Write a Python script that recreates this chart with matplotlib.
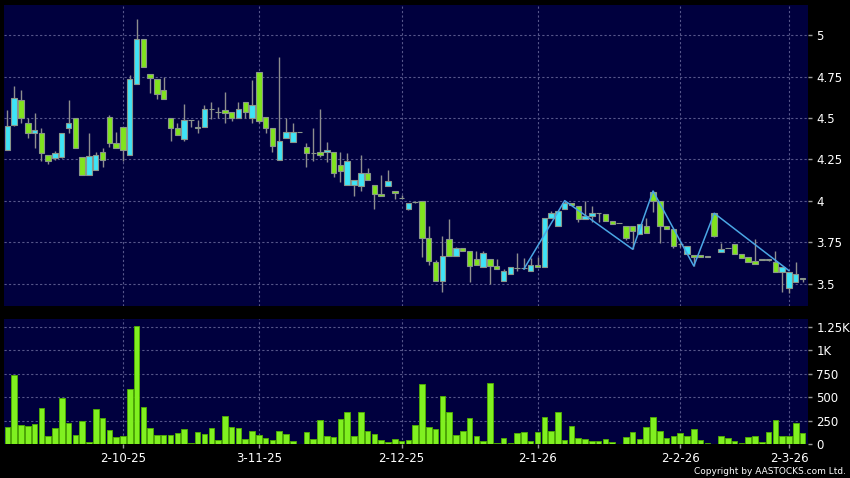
import numpy as np
import matplotlib
matplotlib.use("Agg")
from matplotlib import pyplot as plt
from matplotlib.ticker import FuncFormatter

# daily candles, oldest first (index = trading day in the window)
opens = [4.31, 4.46, 4.61, 4.47, 4.41, 4.41, 4.28, 4.257, 4.263, 4.438,
         4.50, 4.265, 4.157, 4.185, 4.293, 4.504, 4.348, 4.444, 4.275, 4.705,
         4.974, 4.763, 4.733, 4.667, 4.498, 4.438, 4.376, 4.486, 4.442, 4.444,
         4.552, 4.536, 4.546, 4.534, 4.498, 4.594, 4.502, 4.775, 4.504, 4.442,
         4.245, 4.378, 4.354, 4.414, 4.323, 4.287, 4.293, 4.293, 4.293, 4.215,
         4.094, 4.094, 4.089, 4.167, 4.094, 4.044, 4.092, 4.058, 4.016, 3.954,
         3.992, 3.998, 3.775, 3.631, 3.516, 3.769, 3.667, 3.715, 3.699, 3.649,
         3.601, 3.649, 3.607, 3.516, 3.559, 3.595, 3.595, 3.577, 3.613, 3.601,
         3.896, 3.848, 3.95, 3.986, 3.968, 3.892, 3.908, 3.926, 3.92, 3.878,
         3.866, 3.848, 3.848, 3.801, 3.848, 4.056, 3.998, 3.848, 3.83, 3.739,
         3.679, 3.677, 3.677, 3.665, 3.926, 3.695, 3.715, 3.74, 3.683, 3.661,
         3.637, 3.645, 3.645, 3.63, 3.574, 3.478, 3.514, 3.53]
highs = [4.55, 4.69, 4.67, 4.50, 4.53, 4.44, 4.28, 4.30, 4.41, 4.61,
         4.50, 4.265, 4.41, 4.297, 4.317, 4.516, 4.414, 4.444, 4.759, 5.096,
         4.974, 4.763, 4.733, 4.745, 4.50, 4.468, 4.584, 4.486, 4.488, 4.578,
         4.596, 4.568, 4.655, 4.534, 4.598, 4.594, 4.729, 4.775, 4.504, 4.442,
         4.865, 4.50, 4.468, 4.414, 4.348, 4.438, 4.554, 4.355, 4.293, 4.293,
         4.287, 4.124, 4.275, 4.199, 4.094, 4.155, 4.187, 4.058, 4.036, 3.988,
         3.998, 3.998, 3.849, 3.645, 3.789, 3.89, 3.72, 3.715, 3.699, 3.699,
         3.699, 3.649, 3.649, 3.59, 3.601, 3.685, 3.655, 3.655, 3.66, 3.896,
         3.94, 3.938, 4.002, 3.986, 3.968, 3.998, 3.972, 3.926, 3.92, 3.878,
         3.866, 3.848, 3.848, 3.86, 3.896, 4.06, 3.998, 3.848, 3.83, 3.745,
         3.729, 3.677, 3.677, 3.665, 3.926, 3.749, 3.715, 3.74, 3.683, 3.661,
         3.771, 3.645, 3.65, 3.70, 3.60, 3.572, 3.635, 3.53]
lows = [4.31, 4.45, 4.47, 4.38, 4.32, 4.24, 4.225, 4.247, 4.26, 4.41,
        4.32, 4.157, 4.157, 4.185, 4.207, 4.323, 4.32, 4.243, 4.275, 4.705,
        4.805, 4.653, 4.613, 4.613, 4.363, 4.396, 4.363, 4.448, 4.408, 4.444,
        4.494, 4.498, 4.468, 4.484, 4.498, 4.498, 4.472, 4.472, 4.408, 4.293,
        4.245, 4.378, 4.354, 4.414, 4.207, 4.243, 4.263, 4.235, 4.145, 4.114,
        4.094, 4.032, 4.062, 4.124, 3.954, 4.032, 4.092, 4.014, 4.016, 3.945,
        3.985, 3.665, 3.614, 3.516, 3.45, 3.667, 3.667, 3.699, 3.51, 3.617,
        3.601, 3.498, 3.589, 3.516, 3.559, 3.58, 3.59, 3.577, 3.601, 3.601,
        3.896, 3.848, 3.95, 3.974, 3.875, 3.892, 3.875, 3.875, 3.878, 3.86,
        3.866, 3.765, 3.709, 3.801, 3.806, 3.932, 3.745, 3.83, 3.715, 3.72,
        3.679, 3.608, 3.665, 3.665, 3.785, 3.695, 3.715, 3.683, 3.658, 3.635,
        3.62, 3.645, 3.64, 3.574, 3.454, 3.448, 3.514, 3.51]
closes = [4.45, 4.62, 4.50, 4.41, 4.425, 4.29, 4.24, 4.287, 4.408, 4.468,
          4.32, 4.157, 4.273, 4.275, 4.245, 4.349, 4.32, 4.307, 4.733, 4.974,
          4.805, 4.743, 4.643, 4.613, 4.438, 4.396, 4.486, 4.486, 4.442, 4.552,
          4.552, 4.536, 4.528, 4.498, 4.552, 4.536, 4.578, 4.484, 4.438, 4.333,
          4.363, 4.414, 4.414, 4.414, 4.291, 4.287, 4.275, 4.305, 4.167, 4.179,
          4.241, 4.124, 4.167, 4.124, 4.044, 4.032, 4.118, 4.046, 4.016, 3.988,
          3.992, 3.775, 3.639, 3.516, 3.667, 3.667, 3.715, 3.699, 3.608, 3.617,
          3.685, 3.607, 3.589, 3.577, 3.601, 3.595, 3.595, 3.613, 3.601, 3.896,
          3.926, 3.938, 3.986, 3.974, 3.89, 3.908, 3.926, 3.926, 3.878, 3.86,
          3.866, 3.775, 3.818, 3.86, 3.806, 3.998, 3.848, 3.83, 3.729, 3.739,
          3.729, 3.665, 3.665, 3.665, 3.789, 3.713, 3.715, 3.683, 3.658, 3.635,
          3.62, 3.645, 3.645, 3.574, 3.60, 3.572, 3.558, 3.53]
# volume in thousands
volume = [182, 734, 207, 196, 214, 388, 82, 171, 495, 228,
          100, 246, 21, 370, 281, 150, 75, 85, 591, 1264,
          399, 171, 96, 96, 96, 118, 157, 14, 125, 103,
          167, 43, 299, 178, 171, 57, 142, 93, 61, 43,
          139, 110, 32, 0, 125, 53, 256, 82, 71, 267,
          338, 82, 345, 139, 110, 43, 18, 50, 36, 43,
          199, 637, 182, 157, 516, 338, 100, 139, 278, 85,
          32, 648, 14, 68, 14, 114, 128, 28, 132, 288,
          139, 342, 39, 196, 64, 50, 36, 36, 50, 18,
          3, 75, 125, 50, 185, 288, 135, 61, 89, 114,
          85, 157, 39, 10, 0, 89, 64, 28, 14, 75,
          89, 18, 132, 253, 85, 89, 221, 121]

# zigzag swing points (day index, price)
zz_idx = [76, 82, 92, 95, 101, 104, 115]
zz_val = [3.59, 4.002, 3.709, 4.06, 3.608, 3.926, 3.58]

date_idx = [17, 37, 58, 78, 99, 115]
date_labels = ["2-10-25", "3-11-25", "2-12-25", "2-1-26", "2-2-26", "2-3-26"]
price_ticks = [3.5, 3.75, 4, 4.25, 4.5, 4.75, 5]
vol_ticks = [0, 250, 500, 750, 1000, 1250]

BG = "#000000"
PANEL = "#00003e"
GRID = "#56568a"
UP = "#3fe4f6"
DOWN = "#80e41e"
WICK = "#8e8e8e"
EDGE = "#8a968a"

o = np.array(opens)
h = np.array(highs)
l = np.array(lows)
c = np.array(closes)
x = np.arange(len(o))

fig = plt.figure(figsize=(8.5, 4.78), dpi=100, facecolor=BG)
ax = fig.add_axes([4 / 850, 1 - 306 / 478, 804 / 850, 301 / 478])
axv = fig.add_axes([4 / 850, 1 - 444 / 478, 804 / 850, 125 / 478], sharex=ax)

for a in (ax, axv):
    a.set_facecolor(PANEL)
    for s in a.spines.values():
        s.set_visible(False)
    a.yaxis.tick_right()
    a.tick_params(axis="y", colors="#9a9a9a", length=3, width=1, pad=3,
                  labelcolor="white", labelsize=8.5)
    a.tick_params(axis="x", colors="#9a9a9a", length=3, width=1, pad=3,
                  labelcolor="white", labelsize=8.5)
    a.grid(True, color=GRID, linestyle=(0, (2, 2)), linewidth=0.8)
    a.set_axisbelow(True)

# candles
ax.vlines(x, l, h, color=WICK, linewidth=1, zorder=2)
body_lo = np.minimum(o, c)
body_h = np.maximum(np.abs(c - o), 0.003)
colors = np.where(c > o, UP, np.where(c < o, DOWN, WICK))
ax.bar(x, body_h, bottom=body_lo, width=0.8, color=colors,
       edgecolor=EDGE, linewidth=0.8, zorder=3)
ax.plot(zz_idx, zz_val, color="#4aa6e4", linewidth=1.1, zorder=4)

ax.set_ylim(3.367, 5.181)
ax.set_yticks(price_ticks)
ax.yaxis.set_major_formatter(FuncFormatter(lambda v, p: f"{v:g}"))
ax.tick_params(axis="x", labelbottom=False, length=0)

# volume
axv.bar(x, volume, width=0.82, color="#80f020", edgecolor="#50b000",
        linewidth=0.6, zorder=3)
axv.set_ylim(0, 1335)
axv.set_yticks(vol_ticks)
axv.yaxis.set_major_formatter(
    FuncFormatter(lambda v, p: f"{v / 1000:g}K" if v >= 1000 else f"{v:g}"))
axv.set_xticks(date_idx)
axv.set_xticklabels(date_labels)
axv.set_xlim(-0.5, 117.8)

fig.text(846 / 850, 1 - 472 / 478, "Copyright by AASTOCKS.com Ltd.",
         color="white", fontsize=6.5, ha="right", va="center")

fig.savefig("out.png", dpi=100, facecolor=BG)
